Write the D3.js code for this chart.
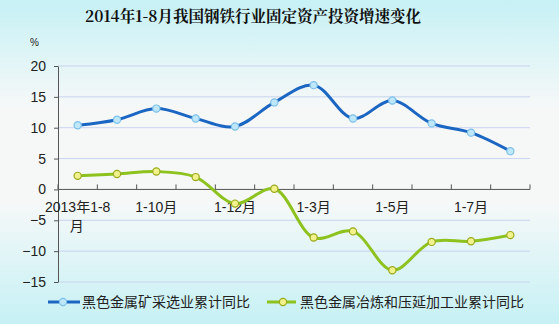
<!DOCTYPE html>
<html>
<head>
<meta charset="utf-8">
<style>
  body { margin: 0; padding: 0; }
  svg { display: block; font-family: "Liberation Sans", Arial, "Noto Sans CJK SC", sans-serif; }
</style>
</head>
<body>
<div id="chart"></div>
<script src="https://d3js.org/d3.v7.min.js"></script>
<script>
// categories (x axis) and the labels actually shown under the axis
const categories = ["2013年1-8月", "1-9月", "1-10月", "1-11月", "1-12月", "1-2月",
                    "1-3月", "1-4月", "1-5月", "1-6月", "1-7月", "1-8月"];
const shownLabels = ["2013年1-8月", "1-10月", "1-12月", "1-3月", "1-5月", "1-7月"];

// series values, %
const mining = [10.4, 11.3, 13.1, 11.5, 10.2, 14.1, 16.9, 11.5, 14.4, 10.7, 9.2, 6.2];
const smelting = [2.2, 2.5, 2.9, 2.0, -2.3, 0.1, -7.8, -6.8, -13.1, -8.5, -8.4, -7.4];

const seriesNames = ["黑色金属矿采选业累计同比", "黑色金属冶炼和压延加工业累计同比"];
const yTicks = [20, 15, 10, 5, 0, -5, -10, -15];

const W = 559, H = 324;
const margin = { top: 66, right: 29, bottom: 42, left: 58 };
const width = W - margin.left - margin.right;
const height = H - margin.top - margin.bottom;

const svg = d3.select("#chart").append("svg")
  .attr("width", W).attr("height", H);

// background gradient
const defs = svg.append("defs");
const grad = defs.append("linearGradient").attr("id", "bg")
  .attr("x1", 0).attr("y1", 0).attr("x2", 0).attr("y2", 1);
grad.append("stop").attr("offset", "0%").attr("stop-color", "#c6f1f5");
grad.append("stop").attr("offset", "33%").attr("stop-color", "#f6f8f8");
grad.append("stop").attr("offset", "62%").attr("stop-color", "#f6f8f8");
grad.append("stop").attr("offset", "100%").attr("stop-color", "#c6f1f5");
svg.append("rect").attr("width", W).attr("height", H).attr("fill", "url(#bg)");

// title
svg.append("text")
  .attr("x", 253).attr("y", 22)
  .attr("text-anchor", "middle")
  .attr("font-family", "'Noto Serif CJK SC', 'Noto Sans CJK SC', serif")
  .attr("font-weight", "bold")
  .attr("font-size", 15.5)
  .attr("fill", "#111")
  .text("2014年1-8月我国钢铁行业固定资产投资增速变化");

svg.append("text")
  .attr("x", 30).attr("y", 46)
  .attr("font-size", 10).attr("fill", "#222")
  .text("%");

const g = svg.append("g").attr("transform", `translate(${margin.left},${margin.top})`);

const x = d3.scaleBand().domain(categories).range([0, width]);
const y = d3.scaleLinear().domain([-15, 20]).range([height, 0]);

// gridlines
g.selectAll(".grid").data(yTicks.filter(d => d !== 0)).enter()
  .append("line")
  .attr("x1", 0).attr("x2", width)
  .attr("y1", d => y(d)).attr("y2", d => y(d))
  .attr("stroke", "#c9d3f0").attr("stroke-width", 1);

// y axis
const yAxis = g.append("g")
  .call(d3.axisLeft(y).tickValues(yTicks).tickSize(4).tickPadding(8).tickSizeOuter(0));
yAxis.select(".domain").attr("stroke", "#555");
yAxis.selectAll(".tick line").attr("stroke", "#555");
yAxis.selectAll(".tick text")
  .attr("font-size", 14).attr("fill", "#222")
  .attr("font-family", "'Liberation Sans', Arial, sans-serif");

// x axis at zero, ticks pointing up at band edges
const xAxisG = g.append("g").attr("transform", `translate(0,${y(0)})`);
xAxisG.append("line").attr("x1", 0).attr("x2", width).attr("stroke", "#555");
xAxisG.selectAll(".xt").data(categories.map((c, i) => i).concat([categories.length])).enter()
  .append("line")
  .attr("x1", i => i < categories.length ? x(categories[i]) : width)
  .attr("x2", i => i < categories.length ? x(categories[i]) : width)
  .attr("y1", 0).attr("y2", -5)
  .attr("stroke", "#555");

const labels = xAxisG.selectAll(".xl").data(shownLabels).enter()
  .append("text")
  .attr("text-anchor", "middle")
  .attr("font-size", 14).attr("fill", "#222")
  .attr("font-family", "'Liberation Sans', Arial, 'Noto Sans CJK SC', sans-serif")
  .attr("x", d => x(d) + x.bandwidth() / 2)
  .attr("y", 23);
labels.each(function (d) {
  const t = d3.select(this);
  if (d.length > 6) {
    t.append("tspan").attr("x", x(d) + x.bandwidth() / 2).text(d.slice(0, -1));
    t.append("tspan").attr("x", x(d) + x.bandwidth() / 2 - 1).attr("dy", 19).text(d.slice(-1));
  } else {
    t.text(d);
  }
});

// lines
const line = d3.line()
  .x((d, i) => x(categories[i]) + x.bandwidth() / 2)
  .y(d => y(d))
  .curve(d3.curveCatmullRom.alpha(0.5));

const styles = [
  { data: mining, stroke: "#1b66c2", fill: "#bfe7fb", ring: "#7cc0ea" },
  { data: smelting, stroke: "#8dc21f", fill: "#f2f28c", ring: "#9aa91c" }
];

styles.forEach(s => {
  g.append("path").datum(s.data)
    .attr("d", line)
    .attr("fill", "none")
    .attr("stroke", s.stroke)
    .attr("stroke-width", 3);
  g.selectAll(null).data(s.data).enter()
    .append("circle")
    .attr("cx", (d, i) => x(categories[i]) + x.bandwidth() / 2)
    .attr("cy", d => y(d))
    .attr("r", 3.6)
    .attr("fill", s.fill)
    .attr("stroke", s.ring)
    .attr("stroke-width", 1.2);
});

// legend
const legendPos = [{ x0: 48, x1: 80, cx: 63, tx: 82 }, { x0: 267, x1: 296, cx: 283, tx: 300 }];
legendPos.forEach((p, i) => {
  const s = styles[i];
  const ly = 302;
  svg.append("line").attr("x1", p.x0).attr("x2", p.x1).attr("y1", ly).attr("y2", ly)
    .attr("stroke", s.stroke).attr("stroke-width", 3);
  svg.append("circle").attr("cx", p.cx).attr("cy", ly).attr("r", 3.6)
    .attr("fill", s.fill).attr("stroke", s.ring).attr("stroke-width", 1.2);
  svg.append("text").attr("x", p.tx).attr("y", ly + 5)
    .attr("font-size", 14).attr("fill", "#222")
    .attr("font-family", "'Noto Sans CJK SC', sans-serif")
    .text(seriesNames[i]);
});
</script>
</body>
</html>
